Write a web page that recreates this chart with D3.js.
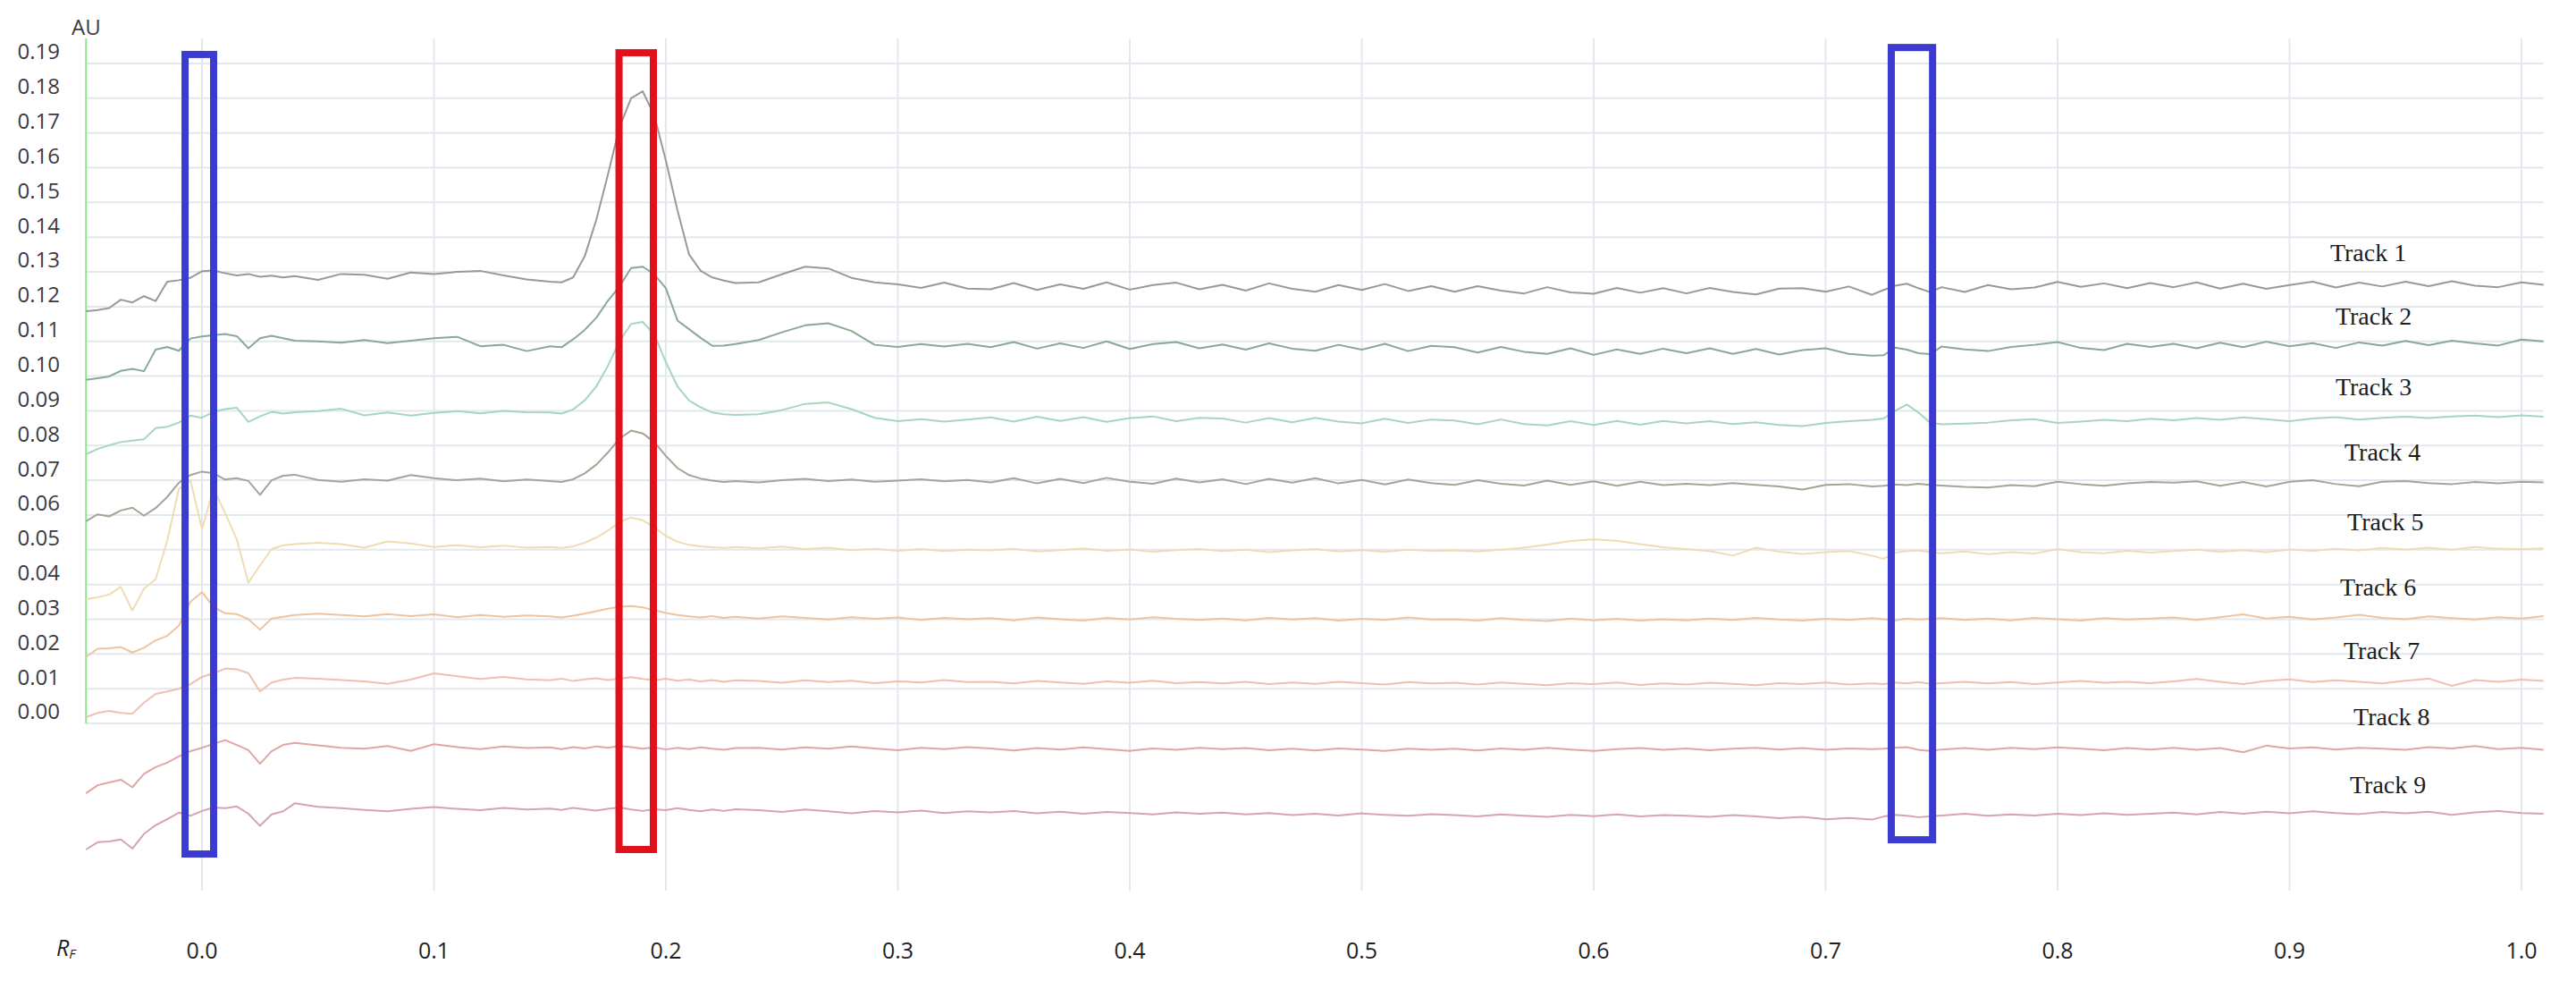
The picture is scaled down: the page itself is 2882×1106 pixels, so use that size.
<!DOCTYPE html>
<html><head><meta charset="utf-8">
<script src="https://cdn.jsdelivr.net/npm/d3@7"></script>
<style>html,body{margin:0;padding:0;background:#fff;overflow:hidden}</style>
</head><body>
<svg id="chart" width="2882" height="1106"></svg>
<script>
// ---------- DATA ----------
// Retention factor grid (shared by all tracks)
const rf = [
 -0.05,-0.045,-0.04,-0.035,-0.03,-0.025,-0.02,-0.015,-0.01,-0.005,
 0,0.005,0.01,0.015,0.02,0.025,0.03,0.035,0.04,
 0.05,0.06,0.07,0.08,0.09,0.10,0.11,0.12,0.13,0.14,
 0.15,0.155,0.16,0.165,0.17,0.175,0.18,0.185,0.19,0.195,0.20,0.205,0.21,0.215,0.22,0.225,0.23,
 0.24,0.25,0.26,0.27,0.28,0.29,0.30,0.31,0.32,0.33,
 0.34,0.35,0.36,0.37,0.38,0.39,0.40,0.41,0.42,0.43,
 0.44,0.45,0.46,0.47,0.48,0.49,0.50,0.51,0.52,0.53,
 0.54,0.55,0.56,0.57,0.58,0.59,0.60,0.61,0.62,0.63,
 0.64,0.65,0.66,0.67,0.68,0.69,0.70,0.71,0.72,
 0.725,0.73,0.735,0.74,0.745,
 0.75,0.76,0.77,0.78,0.79,0.80,0.81,0.82,0.83,0.84,
 0.85,0.86,0.87,0.88,0.89,0.90,0.91,0.92,0.93,0.94,
 0.95,0.96,0.97,0.98,0.99,1.00,1.0095
];
// Absorbance values in milli-AU (mAU)
const track1 = [
 118.7,119.0,119.6,122.0,121.2,123.0,121.6,127.2,127.6,128.3,
 130.2,130.4,129.6,129.0,129.4,128.6,128.9,128.4,128.8,
 127.7,129.4,129.2,128.0,129.8,129.4,130.0,130.3,129.0,127.8,
 127.2,127.0,128.4,134.5,145.0,158.0,171.7,180.0,182.0,175.0,162.0,147.7,135.0,130.3,128.4,127.5,126.8,
 127.0,129.3,131.5,131.0,128.3,127.0,126.4,125.4,126.9,125.2,
 125.0,126.8,124.8,126.4,125.1,127.0,124.9,126.2,126.9,125.0,
 126.3,124.6,126.7,125.1,124.3,126.2,124.8,126.5,124.5,125.9,
 124.3,125.9,124.6,123.8,125.6,124.1,123.7,125.4,124.0,125.3,
 123.8,125.4,124.2,123.5,125.2,125.3,124.3,125.8,123.4,
 124.8,126.0,126.6,125.3,124.2,
 125.6,124.2,126.2,125.0,125.5,127.1,125.7,126.7,125.3,126.8,
 125.6,127.0,125.2,126.6,125.1,126.2,127.2,125.5,126.9,125.8,
 127.2,125.9,127.3,126.0,125.6,127.0,126.3
];
const track2 = [
 98.9,99.4,99.9,101.5,102.1,101.4,107.6,108.4,107.3,110.8,
 111.4,111.8,112.1,111.5,108.0,110.9,111.6,110.9,110.2,
 110.0,109.6,110.4,109.5,110.2,110.9,111.3,108.6,109.0,107.2,
 108.6,108.3,110.6,113.3,116.8,121.7,125.8,131.1,131.5,129.3,125.3,116.0,113.5,111.0,108.7,108.8,109.2,
 110.4,112.6,114.6,115.2,113.0,109.0,108.4,109.2,108.5,109.3,
 108.3,109.8,107.9,109.4,108.1,110.0,107.8,109.2,109.8,108.0,
 109.1,107.6,109.4,107.9,107.3,109.0,107.6,109.3,107.2,108.7,
 108.3,106.8,108.4,107.0,106.4,108.0,106.1,107.7,106.4,107.9,
 106.6,108.0,106.4,107.8,106.2,107.5,108.0,106.4,105.9,
 106.0,108.2,107.6,106.6,106.3,
 108.5,107.7,107.2,108.4,109.0,109.8,108.1,107.5,109.3,108.4,
 109.3,108.0,109.6,108.3,109.9,108.6,109.5,108.1,109.7,108.8,
 110.1,108.9,110.2,109.4,108.8,110.5,110.0
];
const track3 = [
 77.5,79.0,80.1,81.0,81.4,81.8,85.0,85.4,86.6,88.6,
 88.0,89.7,90.5,90.9,86.8,88.4,89.7,89.2,89.6,
 89.9,90.6,88.7,89.5,88.6,89.4,89.9,89.3,90.0,89.6,
 89.5,89.2,90.4,93.0,97.0,103.0,110.0,115.0,115.6,112.0,104.0,97.0,93.0,91.0,89.5,89.0,88.8,
 89.0,90.2,92.0,92.4,90.5,88.0,87.0,87.6,86.9,87.5,
 88.1,86.9,88.3,87.1,88.2,86.8,87.9,88.4,87.0,88.0,
 87.8,86.6,87.9,86.7,88.0,86.9,86.4,87.7,86.5,87.5,
 87.2,86.1,87.5,86.2,85.8,87.0,85.9,87.1,86.0,87.1,
 86.4,87.0,86.2,86.7,85.9,85.6,86.5,87.0,87.4,
 87.8,90.0,91.8,89.5,86.6,
 86.1,86.3,86.6,87.3,87.6,86.5,86.9,87.4,87.0,87.7,
 87.3,87.9,87.4,88.1,87.6,87.0,87.8,88.2,87.5,88.0,
 88.3,87.9,88.4,88.6,88.2,88.7,88.3
];
const track4 = [
 58.2,60.2,59.6,61.3,62.1,59.8,62.0,65.2,69.3,71.5,
 72.5,72.0,70.2,70.6,69.8,65.8,70.0,71.3,71.6,
 70.1,69.6,70.3,69.9,71.5,70.6,70.0,70.5,69.7,70.2,
 69.8,69.5,70.3,72.0,74.5,78.0,82.0,84.3,83.5,81.0,77.0,73.5,71.5,70.5,69.9,69.5,69.8,
 69.4,70.0,70.4,69.8,70.2,69.6,69.9,70.3,69.7,70.1,
 69.4,70.6,69.1,70.4,69.2,70.7,69.6,69.0,70.5,69.4,
 70.3,68.9,70.4,69.3,70.6,69.1,70.1,68.8,70.2,69.2,
 68.7,70.0,69.0,68.5,69.9,68.7,69.7,68.4,69.6,68.6,
 69.0,68.6,69.2,68.7,68.2,67.3,68.7,68.9,68.2,
 68.4,68.8,68.6,69.0,68.7,
 68.5,68.1,67.9,68.6,68.3,69.6,68.9,68.4,69.1,69.5,
 69.3,69.7,68.4,69.5,68.2,69.6,70.0,68.9,68.3,69.6,
 69.8,69.2,68.9,69.5,69.1,69.6,69.4
];
const track5 = [
 35.8,36.3,37.1,39.3,32.5,38.8,41.5,52.5,67.5,70.0,
 56.0,67.5,60.5,53.0,40.5,45.5,50.2,51.3,51.6,
 52.0,51.6,50.6,52.4,51.8,50.8,51.3,50.7,51.2,50.6,
 50.8,50.5,51.0,52.0,53.5,55.5,58.0,59.3,58.5,56.5,54.0,52.3,51.4,51.0,50.7,50.5,50.8,
 50.4,50.9,50.2,50.6,49.9,50.3,49.7,50.2,49.6,50.0,
 49.8,50.3,49.5,49.9,50.4,49.7,50.1,49.4,49.9,50.2,
 49.6,50.0,49.3,49.8,50.2,49.5,49.9,49.4,50.0,49.7,
 49.8,49.5,50.0,50.6,51.5,52.5,53.0,52.6,51.6,50.7,
 50.2,49.6,48.3,50.6,49.4,48.8,49.3,49.6,48.3,
 47.4,49.2,49.6,49.8,49.3,
 49.0,49.5,48.7,49.3,48.9,50.2,49.3,49.0,49.7,49.2,
 49.6,50.0,49.4,49.9,49.3,50.1,49.7,50.3,49.8,50.5,
 50.1,50.6,50.0,50.8,50.3,50.2,50.4
];
const track6 = [
 19.1,21.5,21.6,22.0,20.4,21.8,23.9,25.2,28.1,35.0,
 37.8,33.5,31.7,31.5,30.0,27.0,30.2,30.7,31.2,
 31.6,31.2,30.8,31.5,30.9,31.4,30.6,31.2,30.7,31.1,
 30.8,30.5,31.0,31.6,32.3,33.0,33.6,33.8,33.4,32.6,31.8,31.2,30.8,30.5,30.9,30.4,30.7,
 30.2,30.8,30.4,29.9,30.6,30.1,30.5,29.8,30.4,30.0,
 30.3,29.7,30.5,30.0,29.6,30.4,29.9,30.6,30.1,29.8,
 30.2,29.7,30.4,29.9,30.3,29.6,30.1,29.8,30.5,29.9,
 30.0,29.6,30.3,29.8,29.5,30.2,29.7,30.1,29.6,30.0,
 29.7,30.2,29.8,30.4,29.9,29.6,30.1,29.8,30.3,
 30.0,29.7,30.2,29.9,30.1,
 30.3,29.8,30.2,29.7,30.4,30.0,29.6,30.3,29.9,30.2,
 30.5,29.8,30.6,31.4,30.2,30.7,29.9,30.5,31.3,30.4,
 30.0,30.8,30.3,29.9,30.6,30.2,30.9
];
const track7 = [
 1.8,3.0,3.6,3.0,2.8,6.0,8.5,9.2,10.0,11.3,
 13.4,14.4,15.8,15.6,14.5,9.2,11.8,12.6,13.1,
 12.9,12.5,12.1,11.4,12.6,14.4,13.6,12.8,13.4,12.7,
 12.4,12.9,12.2,12.7,13.0,12.5,12.9,13.3,12.8,12.4,12.9,12.3,12.6,12.1,12.5,12.0,12.4,
 12.2,11.7,12.4,11.9,12.3,11.6,12.1,11.8,12.5,11.9,
 12.0,11.5,12.2,11.8,11.4,12.1,11.7,12.3,11.6,11.9,
 11.5,12.0,11.3,11.8,11.4,12.0,11.6,11.2,11.9,11.5,
 11.7,11.2,11.8,11.4,11.0,11.6,11.3,11.8,11.1,11.5,
 11.2,11.7,11.4,11.0,11.6,11.3,11.8,11.2,11.5,
 11.3,11.8,11.5,11.9,11.4,
 11.6,12.0,11.5,11.9,11.3,11.8,12.2,11.7,12.0,11.6,
 12.1,12.8,12.0,11.3,12.2,12.7,11.9,12.4,12.0,11.5,
 12.3,12.9,10.8,12.5,12.0,12.6,12.2
];
const track8 = [
 -20.1,-17.8,-17.0,-16.2,-18.4,-14.5,-12.6,-11.3,-9.5,-8.0,
 -7.0,-5.9,-4.8,-6.2,-7.7,-11.6,-8.0,-6.2,-5.6,
 -6.3,-7.0,-7.3,-6.5,-7.9,-6.0,-6.8,-7.4,-6.6,-7.1,
 -6.9,-7.4,-6.8,-7.2,-6.6,-7.0,-6.5,-6.8,-7.3,-6.9,-7.5,-7.0,-7.4,-6.9,-7.3,-7.6,-7.1,
 -7.0,-7.5,-6.9,-7.3,-6.6,-7.2,-7.7,-7.0,-7.4,-6.8,
 -7.2,-7.8,-7.1,-7.5,-6.9,-7.4,-7.9,-7.2,-7.6,-7.0,
 -7.4,-7.1,-7.7,-7.3,-7.8,-7.2,-7.5,-7.9,-7.3,-7.6,
 -7.3,-7.8,-7.2,-7.6,-7.0,-7.5,-7.9,-7.4,-7.1,-7.6,
 -7.2,-7.7,-7.3,-7.0,-7.5,-7.1,-7.6,-7.2,-7.4,
 -7.3,-7.0,-6.8,-7.6,-7.9,
 -7.5,-7.1,-7.6,-7.0,-7.4,-6.9,-7.3,-7.7,-7.1,-7.5,
 -7.0,-7.6,-7.1,-8.3,-6.4,-7.2,-6.9,-7.5,-7.0,-7.3,
 -7.6,-6.8,-7.2,-6.5,-7.4,-7.0,-7.6
];
const track9 = [
 -36.3,-34.2,-34.0,-33.4,-36.0,-31.8,-29.3,-27.6,-25.7,-26.6,
 -25.2,-24.2,-24.4,-23.9,-26.0,-29.5,-26.2,-25.3,-23.0,
 -24.0,-24.4,-24.9,-25.3,-24.6,-24.1,-24.6,-25.0,-24.3,-24.8,
 -24.5,-24.9,-24.3,-24.7,-25.1,-24.6,-24.2,-24.8,-25.2,-24.7,-25.0,-24.4,-24.9,-25.3,-24.8,-25.2,-24.7,
 -25.0,-25.5,-24.8,-25.3,-25.9,-25.2,-25.6,-25.1,-25.8,-25.3,
 -25.6,-25.2,-25.9,-25.4,-26.0,-25.5,-25.8,-26.2,-25.6,-26.0,
 -25.7,-26.2,-25.8,-26.4,-26.0,-26.5,-25.9,-26.3,-26.6,-26.1,
 -26.4,-26.8,-26.2,-26.6,-26.9,-26.3,-26.7,-26.2,-26.8,-26.4,
 -26.6,-26.9,-26.4,-26.8,-27.3,-26.9,-27.6,-27.2,-27.7,
 -26.8,-26.3,-26.6,-27.0,-26.8,
 -26.5,-26.0,-26.6,-26.2,-26.5,-26.0,-26.4,-25.9,-26.3,-26.0,
 -25.7,-26.2,-25.5,-26.0,-25.4,-25.9,-25.3,-25.8,-26.1,-25.5,
 -25.9,-25.4,-26.3,-25.6,-25.2,-25.8,-26.0
];
const trackNames = ["Track 1","Track 2","Track 3","Track 4","Track 5","Track 6","Track 7","Track 8","Track 9"];
const xTicks = [0,0.1,0.2,0.3,0.4,0.5,0.6,0.7,0.8,0.9,1.0];
const xTickLabels = ["0.0","0.1","0.2","0.3","0.4","0.5","0.6","0.7","0.8","0.9","1.0"];
const yTicks = [0,10,20,30,40,50,60,70,80,90,100,110,120,130,140,150,160,170,180,190];
const yTickLabels = ["0.00","0.01","0.02","0.03","0.04","0.05","0.06","0.07","0.08","0.09","0.10","0.11","0.12","0.13","0.14","0.15","0.16","0.17","0.18","0.19"];
// highlight boxes in data units [rf0, rf1, mAU bottom, mAU top]
const boxRF0 = [-0.0073, 0.1798, 0.7283];
const boxRF1 = [0.0050, 0.1946, 0.7461];
const boxLow = [-37.6, -36.3, -33.5];
const boxHigh = [192.6, 193.1, 194.6];
// track label anchors (data units)
const labelRF = [0.9175,0.9198,0.9198,0.9237,0.9249,0.9218,0.9233,0.9276,0.9260];
const labelAU = [133.0,114.7,94.4,75.8,55.7,36.9,18.6,-0.6,-20.2];

// ---------- STYLE / LAYOUT ----------
const trackColors = ["#999999","#88a898","#a6d6bd","#a3a596","#efdcb2","#eec39f","#f0bfae","#e0a6a6","#d6a3ae"];
const boxColors = ["#3b3bcf","#e1101b","#3b3bcf"];
const series = [track1,track2,track3,track4,track5,track6,track7,track8,track9];

const svg = d3.select("#chart");
const x = d3.scaleLinear().domain([0,1]).range([226,2821]);
const y = d3.scaleLinear().domain([0,190]).range([809,71]);
const xStart = -0.05, xEnd = 1.0095;
const gridTop = 43, gridBottom = 996;

// vertical grid
svg.append("g").selectAll("line").data(xTicks).join("line")
  .attr("x1",d=>x(d)).attr("x2",d=>x(d))
  .attr("y1",gridTop).attr("y2",gridBottom)
  .attr("stroke","#e3e7ee").attr("stroke-width",2);
// horizontal grid
svg.append("g").selectAll("line").data(yTicks).join("line")
  .attr("x1",x(xStart)).attr("x2",x(xEnd))
  .attr("y1",d=>y(d)).attr("y2",d=>y(d))
  .attr("stroke","#e3e7ee").attr("stroke-width",2);
// green y axis line
svg.append("line")
  .attr("x1",x(xStart)).attr("x2",x(xStart))
  .attr("y1",gridTop).attr("y2",y(0))
  .attr("stroke","#8fe48f").attr("stroke-width",2);

// y tick labels
svg.append("g").selectAll("text").data(yTicks).join("text")
  .attr("x",67).attr("y",d=>y(d)-13).attr("dy","0.35em")
  .attr("text-anchor","end")
  .attr("font-family","'Open Sans', 'Noto Sans', sans-serif").attr("font-size",24)
  .attr("fill","#3a3a44")
  .text((d,i)=>yTickLabels[i]);
svg.append("text").attr("x",80).attr("y",39)
  .attr("font-family","'Open Sans', 'Noto Sans', sans-serif").attr("font-size",24)
  .attr("fill","#3a3a44").text("AU");

// x tick labels
svg.append("g").selectAll("text").data(xTicks).join("text")
  .attr("x",d=>x(d)).attr("y",1063).attr("dy","0.35em")
  .attr("text-anchor","middle")
  .attr("font-family","'Open Sans', 'Noto Sans', sans-serif").attr("font-size",25)
  .attr("fill","#1e1e1e")
  .text((d,i)=>xTickLabels[i]);
const rfLab = svg.append("text").attr("x",63).attr("y",1063).attr("dy","0.35em")
  .attr("font-family","'Open Sans', 'Noto Sans', sans-serif").attr("font-style","italic")
  .attr("fill","#1e1e1e");
rfLab.append("tspan").attr("font-size",25).text("R");
rfLab.append("tspan").attr("font-size",15).attr("dy",3).text("F");

// traces
const line = d3.line().x(d=>x(d[0])).y(d=>y(d[1]));
svg.append("g").selectAll("path").data(series).join("path")
  .attr("d",vals=>line(vals.map((v,i)=>[rf[i],v]).filter(p=>p[0]!==undefined)))
  .attr("fill","none")
  .attr("stroke",(d,i)=>trackColors[i])
  .attr("stroke-width",2)
  .attr("stroke-linejoin","round");

// highlight boxes
svg.append("g").selectAll("rect").data(boxRF0).join("rect")
  .attr("x",(d,i)=>x(boxRF0[i])).attr("width",(d,i)=>x(boxRF1[i])-x(boxRF0[i]))
  .attr("y",(d,i)=>y(boxHigh[i])).attr("height",(d,i)=>y(boxLow[i])-y(boxHigh[i]))
  .attr("fill","none").attr("stroke",(d,i)=>boxColors[i]).attr("stroke-width",8);

// track labels
svg.append("g").selectAll("text").data(trackNames).join("text")
  .attr("x",(d,i)=>x(labelRF[i])).attr("y",(d,i)=>y(labelAU[i]))
  .attr("font-family","'Liberation Serif', 'DejaVu Serif', serif").attr("font-size",28)
  .attr("fill","#1c1c1c")
  .text(d=>d);
</script>
</body></html>
